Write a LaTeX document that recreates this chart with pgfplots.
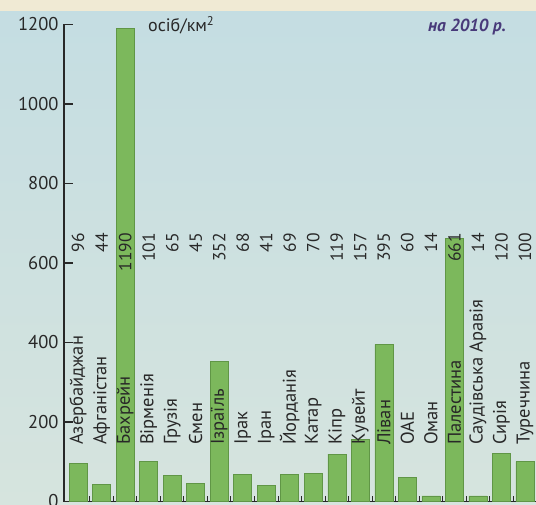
\documentclass[border=0pt]{standalone}
\usepackage{pgfplots}
\pgfplotsset{compat=1.18}
\usepackage{pgfplotstable}
\usepackage{fontspec}
\setmainfont{PT Sans}

\definecolor{bgtop}{RGB}{196,221,226}
\definecolor{bgbot}{RGB}{214,228,222}
\definecolor{cream}{RGB}{240,234,212}
\definecolor{barC}{RGB}{124,184,92}
\definecolor{barE}{RGB}{96,150,70}
\definecolor{txt}{RGB}{40,40,40}
\definecolor{purp}{RGB}{72,58,122}

\pgfplotstableread[col sep=comma]{
x,v,name
0,96,Азербайджан
1,44,Афганістан
2,1190,Бахрейн
3,101,Вірменія
4,65,Грузія
5,45,Ємен
6,352,Ізраїль
7,68,Ірак
8,41,Іран
9,69,Йорданія
10,70,Катар
11,119,Кіпр
12,157,Кувейт
13,395,Ліван
14,60,ОАЕ
15,14,Оман
16,661,Палестина
17,14,Саудівська Аравія
18,120,Сирія
19,100,Туреччина
}\data

\begin{document}
\begin{tikzpicture}
\useasboundingbox (-64bp,-3.5bp) rectangle (472bp,501.5bp);
\shade[top color=bgtop, bottom color=bgbot] (-64bp,-3.5bp) rectangle (472bp,501.5bp);
\fill[cream] (-64bp,490bp) rectangle (472bp,501.5bp);
\begin{axis}[
  at={(0,0)}, anchor=south west,
  scale only axis, width=472bp, height=477bp,
  xmin=-0.6, xmax=19.47, ymin=0, ymax=1200,
  axis y line=left, axis x line=bottom,
  axis line style={-, txt, line width=1.3bp},
  ytick={0,200,...,1200},
  xtick={0.5,1.5,...,18.5}, xticklabels={},
  tick align=inside,
  major tick length=9bp,
  xtick style={/pgfplots/major tick length=5bp, txt, line width=1bp},
  ytick style={txt, line width=1.2bp},
  /pgf/number format/assume math mode=true,
  /pgf/number format/1000 sep={},
  yticklabel style={font=\fontsize{18.5bp}{20bp}\selectfont, text=txt, xshift=-2bp},
  clip=false,
]
\addplot[ybar, bar width=18bp, draw=barE, line width=0.6bp, fill=barC]
  table[x=x, y=v] {\data};
\addplot[draw=none, mark=none, nodes near coords, point meta=explicit symbolic,
  nodes near coords style={rotate=90, anchor=east, inner sep=0pt, text=txt,
    font=\fontsize{17.5bp}{19bp}\selectfont}]
  table[x=x, y expr=675, meta=v] {\data};
\addplot[draw=none, mark=none, nodes near coords, point meta=explicit symbolic,
  nodes near coords style={rotate=90, anchor=west, inner sep=0pt, text=txt,
    font=\fontsize{18.5bp}{20bp}\selectfont}]
  table[x=x, y expr=142, meta=name] {\data};
\node[anchor=west, inner sep=0pt, text=txt, font=\fontsize{18bp}{20bp}\selectfont]
  at (axis cs:2.97,1198) {осіб/км\textsuperscript{2}};
\node[anchor=east, inner sep=0pt, text=purp, font=\fontsize{17.5bp}{19bp}\selectfont\bfseries\itshape]
  at (axis cs:18.2,1194) {на 2010 р.};
\end{axis}
\end{tikzpicture}
\end{document}
